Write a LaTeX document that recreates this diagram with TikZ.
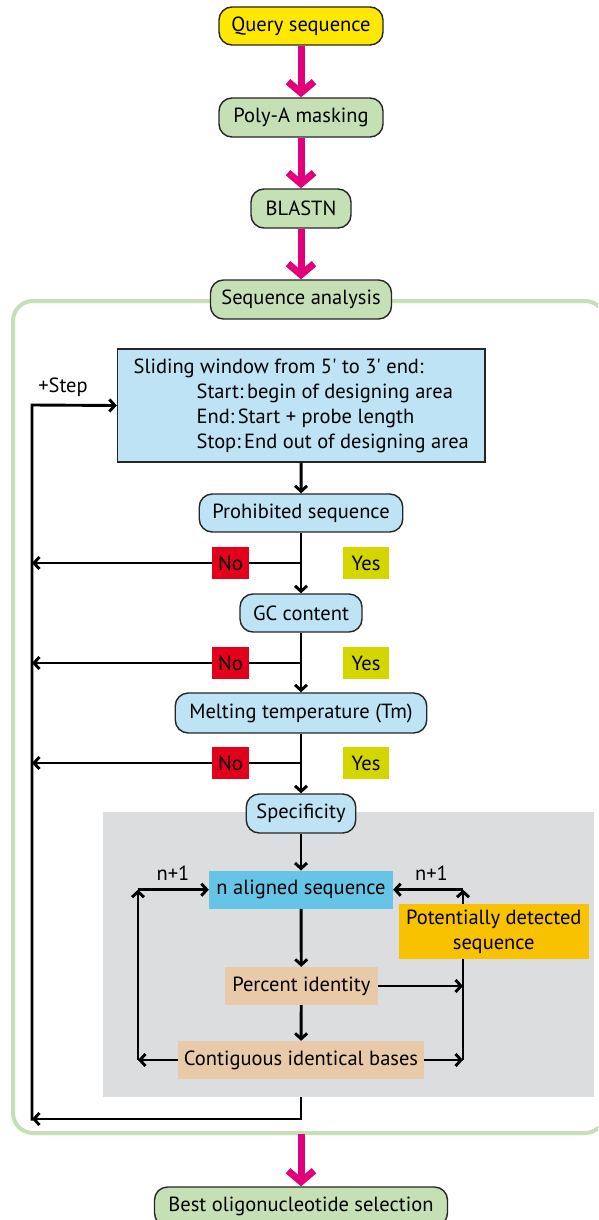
\documentclass[tikz,border=0pt]{standalone}
\usepackage{fontspec}
\newfontfamily\ptsans{PT Sans}
\usetikzlibrary{arrows.meta}
\definecolor{qyellow}{HTML}{FFE800}
\definecolor{lgreen}{HTML}{C6E0B6}
\definecolor{lblue}{HTML}{BDE3F5}
\definecolor{nored}{HTML}{E2001A}
\definecolor{yesol}{HTML}{D4D600}
\definecolor{grayar}{HTML}{DCDDDF}
\definecolor{cyanb}{HTML}{66C5E6}
\definecolor{orangeb}{HTML}{F9C200}
\definecolor{tanb}{HTML}{E8C9A8}
\definecolor{pink}{HTML}{E2007A}
\tikzset{
  txt/.style={font=\ptsans\fontsize{20.5}{23}\selectfont, text=black, inner sep=0pt},
  pill/.style={txt, draw=black!85, line width=1.4pt, rounded corners=13pt},
  flat/.style={txt},
  pinkarrow/.style={draw=pink, line width=7pt, -{Straight Barb[length=11pt,width=26pt]}},
  blk/.style={draw=black, line width=2.9pt, -{Straight Barb[length=5.5pt,width=12pt]}},
}
\begin{document}
\begin{tikzpicture}[x=1pt,y=-1pt]
\useasboundingbox (0,0) rectangle (598,1220);
\clip (0,0) rectangle (598,1220);
\fill[white] (0,0) rectangle (598,1220);
% green frame
\draw[lgreen, line width=4pt, rounded corners=20pt] (13,301) rectangle (605,1133);
% gray area
\node[fill=grayar, minimum width=490.6pt, minimum height=285.3pt, inner sep=0pt] (gray) at (348.7,954.35) {};
% main nodes
\node[pill, fill=qyellow, minimum width=164pt, minimum height=38pt] (q) at (301,26) {Query sequence};
\node[pill, fill=lgreen, minimum width=164pt, minimum height=39pt] (poly) at (301,117.5) {Poly-A masking};
\node[pill, fill=lgreen, minimum width=100pt, minimum height=39pt] (blast) at (301,208.5) {BLASTN};
\node[pill, fill=lgreen, minimum width=181pt, minimum height=39pt] (seqa) at (301,299.5) {Sequence analysis};
\node[txt, draw=black!85, line width=1.4pt, fill=lblue, minimum width=367.5pt, minimum height=113pt, inner xsep=1pt, align=left, font=\ptsans\fontsize{20.5}{25}\selectfont] (slide) at (301.25,405.5)
 {Sliding window from 5' to 3' end:\\
  \hspace*{63pt}Start:\,begin of designing area\\
  \hspace*{63pt}End:\,Start + probe length\\
  \hspace*{63pt}Stop:\,End out of designing area};
\node[pill, fill=lblue, minimum width=203.5pt, minimum height=38pt] (prohib) at (301,513) {Prohibited sequence};
\node[pill, fill=lblue, minimum width=122pt, minimum height=38pt] (gc) at (301,613) {GC content};
\node[pill, fill=lblue, minimum width=251.5pt, minimum height=40pt] (melt) at (301,713) {Melting temperature (Tm)};
\node[pill, fill=lblue, minimum width=109.5pt, minimum height=39pt] (spec) at (301,813.5) {Specificity};
\node[flat, fill=cyanb, minimum width=184pt, minimum height=38pt] (nal) at (301,889.7) {n aligned sequence};
\node[flat, fill=tanb, minimum width=152.6pt, minimum height=38pt] (pct) at (301.3,986) {Percent identity};
\node[flat, fill=tanb, minimum width=246pt, minimum height=38pt] (contig) at (301,1060) {Contiguous identical bases};
\node[pill, fill=lgreen, minimum width=293pt, minimum height=39pt] (best) at (301,1206.5) {Best oligonucleotide selection};
% labels
\node[txt] (step) at (63,387) {+Step};
\node[txt] (np1l) at (173,873) {n+1};
\node[txt] (np1r) at (431.5,873) {n+1};
% coordinates
\coordinate (fb) at (301,1134);
\coordinate (ltop) at (32,405);
\coordinate (lbot) at (32,1120.5);
\coordinate (gb) at (301,1097);
\coordinate (gcorner) at (301,1119);
\coordinate (gend) at (32,1119);
\coordinate (j1) at (301,563);
\coordinate (l1) at (32,563);
\coordinate (j2) at (301,663);
\coordinate (l2) at (32,663);
\coordinate (j3) at (301,763);
\coordinate (l3) at (32,763);
\coordinate (ilt) at (138,889.7);
\coordinate (ilb) at (138,1060);
\coordinate (irt) at (463,889.7);
\coordinate (irm) at (463,986);
\coordinate (irb) at (463,1060);
% pink arrows
\draw[pinkarrow] (q) -- (poly);
\draw[pinkarrow] (poly) -- (blast);
\draw[pinkarrow] (blast) -- (seqa);
\draw[pinkarrow] (fb) -- (best);
% black flow
\draw[blk] (slide) -- (prohib);
\draw[blk] (prohib) -- (gc);
\draw[blk] (gc) -- (melt);
\draw[blk] (melt) -- (spec);
\draw[blk] (spec) -- (nal);
\draw[blk] (j1) -- (l1);
\draw[blk] (j2) -- (l2);
\draw[blk] (j3) -- (l3);
\draw[blk] (gb) -- (gcorner) -- (gend);
\draw[blk] (lbot) -- (ltop) -- (slide.west);
% inner loops
\draw[blk] (nal) -- (pct);
\draw[blk] (pct) -- (contig);
\draw[blk] (contig.west) -- (ilb);
\draw[blk] (ilb) -- (ilt);
\draw[blk] (ilt) -- (nal.west);
\draw[blk] (contig.east) -- (irb);
\draw[blk] (pct.east) -- (irm);
\draw[blk] (irb) -- (irt);
\draw[blk] (irt) -- (nal.east);
% boxes over lines
\node[flat, fill=orangeb, minimum width=189.5pt, minimum height=54.7pt, align=center, font=\ptsans\fontsize{20.5}{25}\selectfont] (pot) at (493.75,931.3) {Potentially detected\\sequence};
\foreach \y/\n in {563/1,663/2,763/3}{
  \node[flat, fill=nored, minimum width=37pt, minimum height=32pt] (no\n) at (230.5,\y) {No};
  \node[flat, fill=yesol, minimum width=46pt, minimum height=32pt] (yes\n) at (366,\y) {Yes};
}
\end{tikzpicture}
\end{document}
